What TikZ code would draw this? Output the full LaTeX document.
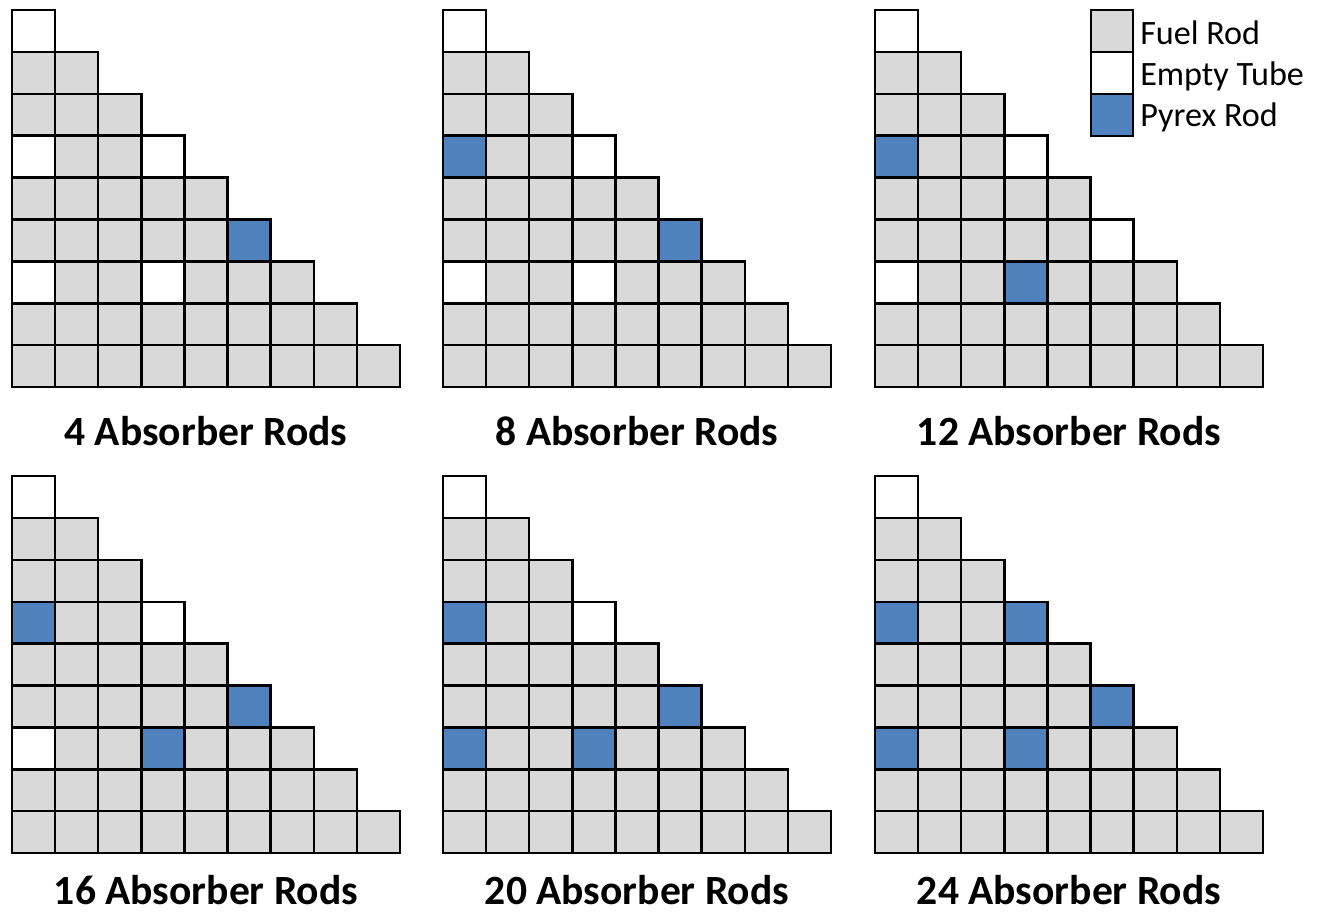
\documentclass[tikz,border=0pt]{standalone}
\usepackage{fontspec}
\setmainfont{Carlito}
\definecolor{fuel}{HTML}{D9D9D9}
\definecolor{pyrex}{HTML}{4F81BD}
\tikzset{
  cellline/.style={draw=black, line width=1.8pt},
  lab/.style={font=\bfseries\fontsize{31.2}{36}\selectfont, inner sep=0pt, anchor=base},
  legtxt/.style={font=\fontsize{25.6}{28}\selectfont, anchor=base west, inner sep=0pt}
}
\newcommand{\trigrid}[4]{%
  \foreach \r in {0,...,8} {\foreach \c in {0,...,\r} {
    \fill[fuel] ({#1+\c*43.1},{#2+\r*41.9}) rectangle ++(43.1,41.9);}}
  \foreach \r/\c in {#3} {\fill[white] ({#1+\c*43.1},{#2+\r*41.9}) rectangle ++(43.1,41.9);}
  \foreach \r/\c in {#4} {\fill[pyrex] ({#1+\c*43.1},{#2+\r*41.9}) rectangle ++(43.1,41.9);}
  \foreach \r in {0,...,8} {\foreach \c in {0,...,\r} {
    \draw[cellline] ({#1+\c*43.1},{#2+\r*41.9}) rectangle ++(43.1,41.9);}}
}
\begin{document}
\begin{tikzpicture}[x=0.75pt,y=-0.75pt]
\useasboundingbox (0,0) rectangle (1325,913);
% grids
\trigrid{12}{10}{0/0,3/0,3/3,6/0,6/3}{5/5}
\trigrid{443}{10}{0/0,3/3,6/0,6/3}{3/0,5/5}
\trigrid{875}{10}{0/0,3/3,5/5,6/0}{3/0,6/3}
\trigrid{12}{476}{0/0,3/3,6/0}{3/0,5/5,6/3}
\trigrid{443}{476}{0/0,3/3}{3/0,5/5,6/0,6/3}
\trigrid{875}{476}{0/0}{3/0,3/3,5/5,6/0,6/3}
% labels
\node[lab] (l4)  at (206,445) {4 Absorber Rods};
\node[lab] (l8)  at (637,445) {8 Absorber Rods};
\node[lab] (l12) at (1069,445) {12 Absorber Rods};
\node[lab] (l16) at (206,904) {16 Absorber Rods};
\node[lab] (l20) at (637,904) {20 Absorber Rods};
\node[lab] (l24) at (1069,904) {24 Absorber Rods};
% legend
\fill[fuel] (1091,10) rectangle (1133,52);
\fill[white] (1091,52) rectangle (1133,94);
\fill[pyrex] (1091,94) rectangle (1133,136);
\draw[cellline] (1091,10) rectangle (1133,52);
\draw[cellline] (1091,52) rectangle (1133,94);
\draw[cellline] (1091,94) rectangle (1133,136);
\begin{scope}
\clip (1080,0) rectangle (1307,150);
\node[legtxt] (lfuel)  at (1140,45)  {Fuel Rod};
\node[legtxt] (lempty) at (1140,86)  {Empty Tube};
\node[legtxt] (lpyrex) at (1140,127) {Pyrex Rod};
\end{scope}
\end{tikzpicture}
\end{document}
